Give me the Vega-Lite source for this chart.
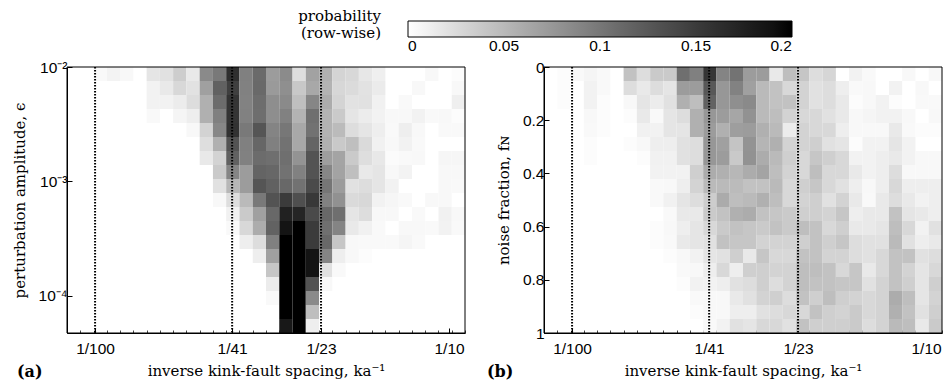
{
 "$schema": "https://vega.github.io/schema/vega-lite/v6.json",
 "background": "white",
 "padding": {"left": 12, "top": 21, "right": 5, "bottom": 5},
 "bounds": "flush",
 "spacing": 79,
 "datasets": {
  "lines": [{"k": 0.01}, {"k": 0.02439}, {"k": 0.04348}],
  "frame": [{}],
  "a": [
{"r":0,"c":2,"v":0.004},{"r":0,"c":3,"v":0.008},{"r":0,"c":4,"v":0.005},{"r":0,"c":6,"v":0.018},{"r":0,"c":7,"v":0.021},{"r":0,"c":8,"v":0.035},{"r":0,"c":9,"v":0.015},{"r":0,"c":10,"v":0.085},{"r":0,"c":11,"v":0.098},{"r":0,"c":12,"v":0.161},{"r":0,"c":13,"v":0.093},{"r":0,"c":14,"v":0.11},{"r":0,"c":15,"v":0.071},{"r":0,"c":16,"v":0.084},{"r":0,"c":17,"v":0.023},{"r":0,"c":18,"v":0.067},{"r":0,"c":19,"v":0.056},{"r":0,"c":20,"v":0.03},{"r":0,"c":21,"v":0.027},{"r":0,"c":22,"v":0.017},{"r":0,"c":23,"v":0.011},{"r":0,"c":27,"v":0.005},{"r":0,"c":29,"v":0.002},
{"r":1,"c":6,"v":0.009},{"r":1,"c":7,"v":0.015},{"r":1,"c":8,"v":0.027},{"r":1,"c":9,"v":0.02},{"r":1,"c":10,"v":0.068},{"r":1,"c":11,"v":0.118},{"r":1,"c":12,"v":0.147},{"r":1,"c":13,"v":0.092},{"r":1,"c":14,"v":0.111},{"r":1,"c":15,"v":0.073},{"r":1,"c":16,"v":0.081},{"r":1,"c":17,"v":0.039},{"r":1,"c":18,"v":0.062},{"r":1,"c":19,"v":0.054},{"r":1,"c":20,"v":0.028},{"r":1,"c":21,"v":0.025},{"r":1,"c":22,"v":0.02},{"r":1,"c":23,"v":0.014},{"r":1,"c":26,"v":0.005},{"r":1,"c":29,"v":0.005},
{"r":2,"c":6,"v":0.009},{"r":2,"c":7,"v":0.009},{"r":2,"c":8,"v":0.013},{"r":2,"c":9,"v":0.024},{"r":2,"c":10,"v":0.056},{"r":2,"c":11,"v":0.109},{"r":2,"c":12,"v":0.157},{"r":2,"c":13,"v":0.091},{"r":2,"c":14,"v":0.108},{"r":2,"c":15,"v":0.082},{"r":2,"c":16,"v":0.085},{"r":2,"c":17,"v":0.045},{"r":2,"c":18,"v":0.088},{"r":2,"c":19,"v":0.059},{"r":2,"c":20,"v":0.03},{"r":2,"c":21,"v":0.02},{"r":2,"c":22,"v":0.021},{"r":2,"c":23,"v":0.01},{"r":2,"c":25,"v":0.004},{"r":2,"c":29,"v":0.011},
{"r":3,"c":6,"v":0.004},{"r":3,"c":8,"v":0.007},{"r":3,"c":9,"v":0.012},{"r":3,"c":10,"v":0.056},{"r":3,"c":11,"v":0.093},{"r":3,"c":12,"v":0.157},{"r":3,"c":13,"v":0.092},{"r":3,"c":14,"v":0.107},{"r":3,"c":15,"v":0.082},{"r":3,"c":16,"v":0.092},{"r":3,"c":17,"v":0.054},{"r":3,"c":18,"v":0.106},{"r":3,"c":19,"v":0.054},{"r":3,"c":20,"v":0.037},{"r":3,"c":21,"v":0.018},{"r":3,"c":22,"v":0.013},{"r":3,"c":23,"v":0.009},{"r":3,"c":24,"v":0.005},{"r":3,"c":25,"v":0.005},{"r":3,"c":26,"v":0.009},{"r":3,"c":27,"v":0.004},{"r":3,"c":28,"v":0.005},{"r":3,"c":29,"v":0.002},
{"r":4,"c":9,"v":0.005},{"r":4,"c":10,"v":0.031},{"r":4,"c":11,"v":0.087},{"r":4,"c":12,"v":0.158},{"r":4,"c":13,"v":0.098},{"r":4,"c":14,"v":0.128},{"r":4,"c":15,"v":0.09},{"r":4,"c":16,"v":0.1},{"r":4,"c":17,"v":0.062},{"r":4,"c":18,"v":0.104},{"r":4,"c":19,"v":0.054},{"r":4,"c":20,"v":0.048},{"r":4,"c":21,"v":0.024},{"r":4,"c":22,"v":0.018},{"r":4,"c":23,"v":0.012},{"r":4,"c":24,"v":0.004},{"r":4,"c":25,"v":0.012},{"r":4,"c":26,"v":0.005},{"r":4,"c":28,"v":0.004},{"r":4,"c":29,"v":0.004},
{"r":5,"c":10,"v":0.023},{"r":5,"c":11,"v":0.056},{"r":5,"c":12,"v":0.129},{"r":5,"c":13,"v":0.093},{"r":5,"c":14,"v":0.114},{"r":5,"c":15,"v":0.093},{"r":5,"c":16,"v":0.104},{"r":5,"c":17,"v":0.062},{"r":5,"c":18,"v":0.115},{"r":5,"c":19,"v":0.056},{"r":5,"c":20,"v":0.038},{"r":5,"c":21,"v":0.045},{"r":5,"c":22,"v":0.026},{"r":5,"c":23,"v":0.01},{"r":5,"c":24,"v":0.005},{"r":5,"c":25,"v":0.009},{"r":5,"c":26,"v":0.004},
{"r":6,"c":10,"v":0.015},{"r":6,"c":11,"v":0.031},{"r":6,"c":12,"v":0.118},{"r":6,"c":13,"v":0.092},{"r":6,"c":14,"v":0.109},{"r":6,"c":15,"v":0.106},{"r":6,"c":16,"v":0.106},{"r":6,"c":17,"v":0.078},{"r":6,"c":18,"v":0.129},{"r":6,"c":19,"v":0.07},{"r":6,"c":20,"v":0.065},{"r":6,"c":21,"v":0.037},{"r":6,"c":22,"v":0.023},{"r":6,"c":23,"v":0.016},{"r":6,"c":24,"v":0.003},{"r":6,"c":25,"v":0.004},{"r":6,"c":26,"v":0.005},{"r":6,"c":28,"v":0.006},{"r":6,"c":29,"v":0.006},
{"r":7,"c":11,"v":0.037},{"r":7,"c":12,"v":0.089},{"r":7,"c":13,"v":0.071},{"r":7,"c":14,"v":0.115},{"r":7,"c":15,"v":0.113},{"r":7,"c":16,"v":0.104},{"r":7,"c":17,"v":0.092},{"r":7,"c":18,"v":0.129},{"r":7,"c":19,"v":0.088},{"r":7,"c":20,"v":0.066},{"r":7,"c":21,"v":0.045},{"r":7,"c":22,"v":0.015},{"r":7,"c":23,"v":0.018},{"r":7,"c":24,"v":0.005},{"r":7,"c":25,"v":0.008},{"r":7,"c":28,"v":0.005},{"r":7,"c":29,"v":0.005},
{"r":8,"c":11,"v":0.021},{"r":8,"c":12,"v":0.051},{"r":8,"c":13,"v":0.071},{"r":8,"c":14,"v":0.128},{"r":8,"c":15,"v":0.118},{"r":8,"c":16,"v":0.112},{"r":8,"c":17,"v":0.104},{"r":8,"c":18,"v":0.137},{"r":8,"c":19,"v":0.101},{"r":8,"c":20,"v":0.071},{"r":8,"c":21,"v":0.021},{"r":8,"c":22,"v":0.024},{"r":8,"c":23,"v":0.018},{"r":8,"c":24,"v":0.009},{"r":8,"c":28,"v":0.005},{"r":8,"c":29,"v":0.004},
{"r":9,"c":11,"v":0.005},{"r":9,"c":12,"v":0.023},{"r":9,"c":13,"v":0.049},{"r":9,"c":14,"v":0.098},{"r":9,"c":15,"v":0.129},{"r":9,"c":16,"v":0.15},{"r":9,"c":17,"v":0.133},{"r":9,"c":18,"v":0.153},{"r":9,"c":19,"v":0.092},{"r":9,"c":20,"v":0.08},{"r":9,"c":21,"v":0.026},{"r":9,"c":22,"v":0.027},{"r":9,"c":23,"v":0.009},{"r":9,"c":24,"v":0.006},{"r":9,"c":25,"v":0.004},{"r":9,"c":27,"v":0.005},{"r":9,"c":28,"v":0.005},
{"r":10,"c":12,"v":0.01},{"r":10,"c":13,"v":0.037},{"r":10,"c":14,"v":0.068},{"r":10,"c":15,"v":0.112},{"r":10,"c":16,"v":0.175},{"r":10,"c":17,"v":0.171},{"r":10,"c":18,"v":0.137},{"r":10,"c":19,"v":0.112},{"r":10,"c":20,"v":0.106},{"r":10,"c":21,"v":0.018},{"r":10,"c":22,"v":0.024},{"r":10,"c":23,"v":0.005},{"r":10,"c":24,"v":0.005},{"r":10,"c":26,"v":0.004},{"r":10,"c":28,"v":0.01},{"r":10,"c":29,"v":0.005},
{"r":11,"c":12,"v":0.004},{"r":11,"c":13,"v":0.027},{"r":11,"c":14,"v":0.059},{"r":11,"c":15,"v":0.117},{"r":11,"c":16,"v":0.187},{"r":11,"c":17,"v":0.23},{"r":11,"c":18,"v":0.15},{"r":11,"c":19,"v":0.106},{"r":11,"c":20,"v":0.09},{"r":11,"c":21,"v":0.015},{"r":11,"c":22,"v":0.01},{"r":11,"c":23,"v":0.004},{"r":11,"c":25,"v":0.005},{"r":11,"c":26,"v":0.005},{"r":11,"c":27,"v":0.004},{"r":11,"c":28,"v":0.009},{"r":11,"c":29,"v":0.004},
{"r":12,"c":13,"v":0.012},{"r":12,"c":14,"v":0.024},{"r":12,"c":15,"v":0.093},{"r":12,"c":16,"v":0.21},{"r":12,"c":17,"v":0.22},{"r":12,"c":18,"v":0.15},{"r":12,"c":19,"v":0.112},{"r":12,"c":20,"v":0.04},{"r":12,"c":21,"v":0.005},{"r":12,"c":22,"v":0.004},{"r":12,"c":23,"v":0.004},{"r":12,"c":24,"v":0.004},{"r":12,"c":25,"v":0.007},{"r":12,"c":26,"v":0.004},
{"r":13,"c":14,"v":0.012},{"r":13,"c":15,"v":0.068},{"r":13,"c":16,"v":0.22},{"r":13,"c":17,"v":0.23},{"r":13,"c":18,"v":0.187},{"r":13,"c":19,"v":0.09},{"r":13,"c":20,"v":0.012},{"r":13,"c":21,"v":0.005},{"r":13,"c":22,"v":0.002},
{"r":14,"c":15,"v":0.04},{"r":14,"c":16,"v":0.23},{"r":14,"c":17,"v":0.24},{"r":14,"c":18,"v":0.187},{"r":14,"c":19,"v":0.021},{"r":14,"c":20,"v":0.004},
{"r":15,"c":15,"v":0.013},{"r":15,"c":16,"v":0.24},{"r":15,"c":17,"v":0.25},{"r":15,"c":18,"v":0.129},{"r":15,"c":19,"v":0.005},
{"r":16,"c":15,"v":0.004},{"r":16,"c":16,"v":0.25},{"r":16,"c":17,"v":0.26},{"r":16,"c":18,"v":0.085},
{"r":17,"c":16,"v":0.26},{"r":17,"c":17,"v":0.27},{"r":17,"c":18,"v":0.046},
{"r":18,"c":16,"v":0.184},{"r":18,"c":17,"v":0.27},{"r":18,"c":18,"v":0.012}
  ],
  "b": [
{"r":0,"c":1,"v":0.002},{"r":0,"c":2,"v":0.004},{"r":0,"c":3,"v":0.007},{"r":0,"c":4,"v":0.004},{"r":0,"c":6,"v":0.043},{"r":0,"c":7,"v":0.024},{"r":0,"c":8,"v":0.037},{"r":0,"c":9,"v":0.037},{"r":0,"c":10,"v":0.106},{"r":0,"c":11,"v":0.093},{"r":0,"c":12,"v":0.156},{"r":0,"c":13,"v":0.09},{"r":0,"c":14,"v":0.103},{"r":0,"c":15,"v":0.071},{"r":0,"c":16,"v":0.071},{"r":0,"c":17,"v":0.015},{"r":0,"c":18,"v":0.046},{"r":0,"c":19,"v":0.04},{"r":0,"c":20,"v":0.024},{"r":0,"c":21,"v":0.029},{"r":0,"c":23,"v":0.009},{"r":0,"c":24,"v":0.004},{"r":0,"c":27,"v":0.005},{"r":0,"c":29,"v":0.005},
{"r":1,"c":1,"v":0.002},{"r":1,"c":3,"v":0.009},{"r":1,"c":4,"v":0.004},{"r":1,"c":6,"v":0.024},{"r":1,"c":7,"v":0.015},{"r":1,"c":8,"v":0.024},{"r":1,"c":9,"v":0.018},{"r":1,"c":10,"v":0.071},{"r":1,"c":11,"v":0.071},{"r":1,"c":12,"v":0.125},{"r":1,"c":13,"v":0.075},{"r":1,"c":14,"v":0.091},{"r":1,"c":15,"v":0.068},{"r":1,"c":16,"v":0.049},{"r":1,"c":17,"v":0.043},{"r":1,"c":18,"v":0.027},{"r":1,"c":19,"v":0.031},{"r":1,"c":20,"v":0.021},{"r":1,"c":21,"v":0.024},{"r":1,"c":22,"v":0.012},{"r":1,"c":23,"v":0.004},{"r":1,"c":24,"v":0.005},{"r":1,"c":26,"v":0.009},{"r":1,"c":28,"v":0.005},
{"r":2,"c":1,"v":0.002},{"r":2,"c":3,"v":0.009},{"r":2,"c":4,"v":0.002},{"r":2,"c":6,"v":0.005},{"r":2,"c":7,"v":0.018},{"r":2,"c":8,"v":0.013},{"r":2,"c":9,"v":0.021},{"r":2,"c":10,"v":0.056},{"r":2,"c":11,"v":0.046},{"r":2,"c":12,"v":0.117},{"r":2,"c":13,"v":0.075},{"r":2,"c":14,"v":0.081},{"r":2,"c":15,"v":0.085},{"r":2,"c":16,"v":0.049},{"r":2,"c":17,"v":0.043},{"r":2,"c":18,"v":0.043},{"r":2,"c":19,"v":0.031},{"r":2,"c":20,"v":0.021},{"r":2,"c":21,"v":0.024},{"r":2,"c":22,"v":0.015},{"r":2,"c":23,"v":0.002},{"r":2,"c":24,"v":0.005},{"r":2,"c":25,"v":0.009},{"r":2,"c":26,"v":0.002},{"r":2,"c":28,"v":0.004},{"r":2,"c":29,"v":0.004},
{"r":3,"c":3,"v":0.005},{"r":3,"c":4,"v":0.002},{"r":3,"c":6,"v":0.002},{"r":3,"c":7,"v":0.015},{"r":3,"c":8,"v":0.004},{"r":3,"c":9,"v":0.018},{"r":3,"c":10,"v":0.024},{"r":3,"c":11,"v":0.056},{"r":3,"c":12,"v":0.075},{"r":3,"c":13,"v":0.071},{"r":3,"c":14,"v":0.064},{"r":3,"c":15,"v":0.079},{"r":3,"c":16,"v":0.049},{"r":3,"c":17,"v":0.046},{"r":3,"c":18,"v":0.031},{"r":3,"c":19,"v":0.027},{"r":3,"c":20,"v":0.027},{"r":3,"c":21,"v":0.021},{"r":3,"c":22,"v":0.015},{"r":3,"c":23,"v":0.005},{"r":3,"c":24,"v":0.007},{"r":3,"c":25,"v":0.009},{"r":3,"c":26,"v":0.009},{"r":3,"c":27,"v":0.005},{"r":3,"c":29,"v":0.005},
{"r":4,"c":3,"v":0.004},{"r":4,"c":4,"v":0.002},{"r":4,"c":7,"v":0.01},{"r":4,"c":8,"v":0.009},{"r":4,"c":9,"v":0.018},{"r":4,"c":10,"v":0.018},{"r":4,"c":11,"v":0.056},{"r":4,"c":12,"v":0.071},{"r":4,"c":13,"v":0.056},{"r":4,"c":14,"v":0.07},{"r":4,"c":15,"v":0.071},{"r":4,"c":16,"v":0.056},{"r":4,"c":17,"v":0.049},{"r":4,"c":18,"v":0.013},{"r":4,"c":19,"v":0.031},{"r":4,"c":20,"v":0.027},{"r":4,"c":21,"v":0.027},{"r":4,"c":22,"v":0.012},{"r":4,"c":23,"v":0.005},{"r":4,"c":24,"v":0.005},{"r":4,"c":25,"v":0.005},{"r":4,"c":26,"v":0.015},{"r":4,"c":27,"v":0.004},{"r":4,"c":28,"v":0.002},{"r":4,"c":29,"v":0.002},
{"r":5,"c":3,"v":0.002},{"r":5,"c":6,"v":0.002},{"r":5,"c":7,"v":0.005},{"r":5,"c":8,"v":0.012},{"r":5,"c":9,"v":0.012},{"r":5,"c":10,"v":0.021},{"r":5,"c":11,"v":0.024},{"r":5,"c":12,"v":0.075},{"r":5,"c":13,"v":0.068},{"r":5,"c":14,"v":0.042},{"r":5,"c":15,"v":0.078},{"r":5,"c":16,"v":0.053},{"r":5,"c":17,"v":0.056},{"r":5,"c":18,"v":0.031},{"r":5,"c":19,"v":0.031},{"r":5,"c":20,"v":0.034},{"r":5,"c":21,"v":0.021},{"r":5,"c":22,"v":0.018},{"r":5,"c":23,"v":0.002},{"r":5,"c":24,"v":0.009},{"r":5,"c":25,"v":0.009},{"r":5,"c":26,"v":0.018},{"r":5,"c":27,"v":0.009},
{"r":6,"c":3,"v":0.002},{"r":6,"c":7,"v":0.002},{"r":6,"c":8,"v":0.01},{"r":6,"c":9,"v":0.01},{"r":6,"c":10,"v":0.021},{"r":6,"c":11,"v":0.024},{"r":6,"c":12,"v":0.075},{"r":6,"c":13,"v":0.071},{"r":6,"c":14,"v":0.038},{"r":6,"c":15,"v":0.079},{"r":6,"c":16,"v":0.059},{"r":6,"c":17,"v":0.049},{"r":6,"c":18,"v":0.034},{"r":6,"c":19,"v":0.027},{"r":6,"c":20,"v":0.04},{"r":6,"c":21,"v":0.034},{"r":6,"c":22,"v":0.027},{"r":6,"c":23,"v":0.009},{"r":6,"c":24,"v":0.009},{"r":6,"c":25,"v":0.012},{"r":6,"c":26,"v":0.015},{"r":6,"c":27,"v":0.009},{"r":6,"c":28,"v":0.005},{"r":6,"c":29,"v":0.005},
{"r":7,"c":8,"v":0.009},{"r":7,"c":9,"v":0.009},{"r":7,"c":10,"v":0.009},{"r":7,"c":11,"v":0.034},{"r":7,"c":12,"v":0.059},{"r":7,"c":13,"v":0.056},{"r":7,"c":14,"v":0.051},{"r":7,"c":15,"v":0.059},{"r":7,"c":16,"v":0.065},{"r":7,"c":17,"v":0.046},{"r":7,"c":18,"v":0.031},{"r":7,"c":19,"v":0.027},{"r":7,"c":20,"v":0.046},{"r":7,"c":21,"v":0.027},{"r":7,"c":22,"v":0.027},{"r":7,"c":23,"v":0.015},{"r":7,"c":24,"v":0.009},{"r":7,"c":25,"v":0.012},{"r":7,"c":26,"v":0.024},{"r":7,"c":27,"v":0.005},{"r":7,"c":28,"v":0.005},{"r":7,"c":29,"v":0.005},
{"r":8,"c":8,"v":0.004},{"r":8,"c":9,"v":0.005},{"r":8,"c":10,"v":0.012},{"r":8,"c":11,"v":0.031},{"r":8,"c":12,"v":0.049},{"r":8,"c":13,"v":0.049},{"r":8,"c":14,"v":0.048},{"r":8,"c":15,"v":0.043},{"r":8,"c":16,"v":0.043},{"r":8,"c":17,"v":0.049},{"r":8,"c":18,"v":0.027},{"r":8,"c":19,"v":0.034},{"r":8,"c":20,"v":0.04},{"r":8,"c":21,"v":0.027},{"r":8,"c":22,"v":0.021},{"r":8,"c":23,"v":0.012},{"r":8,"c":24,"v":0.005},{"r":8,"c":25,"v":0.012},{"r":8,"c":26,"v":0.027},{"r":8,"c":27,"v":0.012},{"r":8,"c":28,"v":0.012},{"r":8,"c":29,"v":0.012},
{"r":9,"c":8,"v":0.004},{"r":9,"c":9,"v":0.01},{"r":9,"c":10,"v":0.018},{"r":9,"c":11,"v":0.024},{"r":9,"c":12,"v":0.035},{"r":9,"c":13,"v":0.06},{"r":9,"c":14,"v":0.046},{"r":9,"c":15,"v":0.049},{"r":9,"c":16,"v":0.056},{"r":9,"c":17,"v":0.046},{"r":9,"c":18,"v":0.027},{"r":9,"c":19,"v":0.031},{"r":9,"c":20,"v":0.034},{"r":9,"c":21,"v":0.021},{"r":9,"c":22,"v":0.031},{"r":9,"c":23,"v":0.015},{"r":9,"c":24,"v":0.004},{"r":9,"c":25,"v":0.015},{"r":9,"c":26,"v":0.024},{"r":9,"c":27,"v":0.015},{"r":9,"c":28,"v":0.009},{"r":9,"c":29,"v":0.012},
{"r":10,"c":9,"v":0.004},{"r":10,"c":10,"v":0.015},{"r":10,"c":11,"v":0.015},{"r":10,"c":12,"v":0.037},{"r":10,"c":13,"v":0.043},{"r":10,"c":14,"v":0.056},{"r":10,"c":15,"v":0.059},{"r":10,"c":16,"v":0.043},{"r":10,"c":17,"v":0.04},{"r":10,"c":18,"v":0.037},{"r":10,"c":19,"v":0.034},{"r":10,"c":20,"v":0.034},{"r":10,"c":21,"v":0.031},{"r":10,"c":22,"v":0.04},{"r":10,"c":23,"v":0.012},{"r":10,"c":24,"v":0.015},{"r":10,"c":25,"v":0.015},{"r":10,"c":26,"v":0.043},{"r":10,"c":27,"v":0.018},{"r":10,"c":28,"v":0.015},{"r":10,"c":29,"v":0.012},
{"r":11,"c":8,"v":0.002},{"r":11,"c":9,"v":0.005},{"r":11,"c":10,"v":0.012},{"r":11,"c":11,"v":0.018},{"r":11,"c":12,"v":0.027},{"r":11,"c":13,"v":0.037},{"r":11,"c":14,"v":0.043},{"r":11,"c":15,"v":0.04},{"r":11,"c":16,"v":0.037},{"r":11,"c":17,"v":0.043},{"r":11,"c":18,"v":0.037},{"r":11,"c":19,"v":0.046},{"r":11,"c":20,"v":0.043},{"r":11,"c":21,"v":0.027},{"r":11,"c":22,"v":0.034},{"r":11,"c":23,"v":0.015},{"r":11,"c":24,"v":0.015},{"r":11,"c":25,"v":0.018},{"r":11,"c":26,"v":0.046},{"r":11,"c":27,"v":0.027},{"r":11,"c":28,"v":0.009},{"r":11,"c":29,"v":0.021},
{"r":12,"c":8,"v":0.002},{"r":12,"c":9,"v":0.004},{"r":12,"c":10,"v":0.015},{"r":12,"c":11,"v":0.018},{"r":12,"c":12,"v":0.021},{"r":12,"c":13,"v":0.043},{"r":12,"c":14,"v":0.04},{"r":12,"c":15,"v":0.04},{"r":12,"c":16,"v":0.031},{"r":12,"c":17,"v":0.031},{"r":12,"c":18,"v":0.031},{"r":12,"c":19,"v":0.034},{"r":12,"c":20,"v":0.043},{"r":12,"c":21,"v":0.034},{"r":12,"c":22,"v":0.04},{"r":12,"c":23,"v":0.024},{"r":12,"c":24,"v":0.021},{"r":12,"c":25,"v":0.021},{"r":12,"c":26,"v":0.049},{"r":12,"c":27,"v":0.021},{"r":12,"c":28,"v":0.012},{"r":12,"c":29,"v":0.015},
{"r":13,"c":9,"v":0.002},{"r":13,"c":10,"v":0.005},{"r":13,"c":11,"v":0.009},{"r":13,"c":12,"v":0.018},{"r":13,"c":13,"v":0.021},{"r":13,"c":14,"v":0.034},{"r":13,"c":15,"v":0.015},{"r":13,"c":16,"v":0.04},{"r":13,"c":17,"v":0.027},{"r":13,"c":18,"v":0.027},{"r":13,"c":19,"v":0.043},{"r":13,"c":20,"v":0.043},{"r":13,"c":21,"v":0.031},{"r":13,"c":22,"v":0.031},{"r":13,"c":23,"v":0.024},{"r":13,"c":24,"v":0.021},{"r":13,"c":25,"v":0.027},{"r":13,"c":26,"v":0.043},{"r":13,"c":27,"v":0.043},{"r":13,"c":28,"v":0.021},{"r":13,"c":29,"v":0.024},
{"r":14,"c":10,"v":0.004},{"r":14,"c":11,"v":0.005},{"r":14,"c":12,"v":0.012},{"r":14,"c":13,"v":0.027},{"r":14,"c":14,"v":0.012},{"r":14,"c":15,"v":0.034},{"r":14,"c":16,"v":0.034},{"r":14,"c":17,"v":0.031},{"r":14,"c":18,"v":0.031},{"r":14,"c":19,"v":0.046},{"r":14,"c":20,"v":0.046},{"r":14,"c":21,"v":0.043},{"r":14,"c":22,"v":0.027},{"r":14,"c":23,"v":0.04},{"r":14,"c":24,"v":0.015},{"r":14,"c":25,"v":0.027},{"r":14,"c":26,"v":0.043},{"r":14,"c":27,"v":0.031},{"r":14,"c":28,"v":0.018},{"r":14,"c":29,"v":0.027},
{"r":15,"c":10,"v":0.002},{"r":15,"c":11,"v":0.009},{"r":15,"c":12,"v":0.009},{"r":15,"c":13,"v":0.012},{"r":15,"c":14,"v":0.021},{"r":15,"c":15,"v":0.024},{"r":15,"c":16,"v":0.034},{"r":15,"c":17,"v":0.024},{"r":15,"c":18,"v":0.031},{"r":15,"c":19,"v":0.046},{"r":15,"c":20,"v":0.043},{"r":15,"c":21,"v":0.043},{"r":15,"c":22,"v":0.04},{"r":15,"c":23,"v":0.04},{"r":15,"c":24,"v":0.021},{"r":15,"c":25,"v":0.031},{"r":15,"c":26,"v":0.043},{"r":15,"c":27,"v":0.034},{"r":15,"c":28,"v":0.018},{"r":15,"c":29,"v":0.034},
{"r":16,"c":11,"v":0.004},{"r":16,"c":12,"v":0.005},{"r":16,"c":13,"v":0.005},{"r":16,"c":14,"v":0.015},{"r":16,"c":15,"v":0.021},{"r":16,"c":16,"v":0.031},{"r":16,"c":17,"v":0.034},{"r":16,"c":18,"v":0.024},{"r":16,"c":19,"v":0.043},{"r":16,"c":20,"v":0.034},{"r":16,"c":21,"v":0.046},{"r":16,"c":22,"v":0.034},{"r":16,"c":23,"v":0.031},{"r":16,"c":24,"v":0.027},{"r":16,"c":25,"v":0.031},{"r":16,"c":26,"v":0.059},{"r":16,"c":27,"v":0.046},{"r":16,"c":28,"v":0.018},{"r":16,"c":29,"v":0.031},
{"r":17,"c":11,"v":0.002},{"r":17,"c":12,"v":0.005},{"r":17,"c":13,"v":0.005},{"r":17,"c":14,"v":0.012},{"r":17,"c":15,"v":0.012},{"r":17,"c":16,"v":0.021},{"r":17,"c":17,"v":0.024},{"r":17,"c":18,"v":0.027},{"r":17,"c":19,"v":0.027},{"r":17,"c":20,"v":0.043},{"r":17,"c":21,"v":0.034},{"r":17,"c":22,"v":0.031},{"r":17,"c":23,"v":0.037},{"r":17,"c":24,"v":0.027},{"r":17,"c":25,"v":0.031},{"r":17,"c":26,"v":0.056},{"r":17,"c":27,"v":0.043},{"r":17,"c":28,"v":0.021},{"r":17,"c":29,"v":0.034},
{"r":18,"c":12,"v":0.004},{"r":18,"c":13,"v":0.009},{"r":18,"c":14,"v":0.021},{"r":18,"c":15,"v":0.018},{"r":18,"c":16,"v":0.027},{"r":18,"c":17,"v":0.027},{"r":18,"c":18,"v":0.021},{"r":18,"c":19,"v":0.043},{"r":18,"c":20,"v":0.034},{"r":18,"c":21,"v":0.034},{"r":18,"c":22,"v":0.034},{"r":18,"c":23,"v":0.037},{"r":18,"c":24,"v":0.024},{"r":18,"c":25,"v":0.031},{"r":18,"c":26,"v":0.049},{"r":18,"c":27,"v":0.046},{"r":18,"c":28,"v":0.015},{"r":18,"c":29,"v":0.037}
  ]
 },
 "hconcat": [
  {
   "width": 398, "height": 266,
   "title": {"text": "(a)", "orient": "bottom", "anchor": "start", "frame": "group", "dx": -50, "offset": -15, "font": "DejaVu Serif", "fontWeight": "bold", "fontSize": 16, "color": "#000"},
   "layer": [
    {"data": {"name": "a"}, "mark": {"type": "rect"},
     "encoding": {
      "x": {"field": "c", "type": "ordinal", "scale": {"domain": [0,1,2,3,4,5,6,7,8,9,10,11,12,13,14,15,16,17,18,19,20,21,22,23,24,25,26,27,28,29], "paddingInner": 0, "paddingOuter": 0}, "axis": {"orient": "bottom", "labels": false, "domain": false, "ticks": true, "tickBand": "extent", "tickSize": -3, "tickColor": "#444", "title": null}},
      "y": {"field": "r", "type": "ordinal", "scale": {"domain": [0,1,2,3,4,5,6,7,8,9,10,11,12,13,14,15,16,17,18], "paddingInner": 0, "paddingOuter": 0}, "axis": null},
      "color": {"field": "v", "type": "quantitative", "scale": {"domain": [0, 0.2], "range": ["#ffffff", "#000000"], "clamp": true},
       "legend": {"orient": "none", "legendX": 231, "legendY": -46, "direction": "horizontal", "gradientLength": 384, "gradientThickness": 16, "title": ["probability", "(row-wise)"], "titleOrient": "left", "titleAlign": "right", "titleAnchor": "start", "titleBaseline": "alphabetic", "titleLineHeight": 17, "titlePadding": -56, "values": [0, 0.05, 0.1, 0.15, 0.2], "format": "~g", "labelAlign": "center"}}
     }},
    {"data": {"name": "lines"}, "mark": {"type": "rule", "color": "#000", "strokeWidth": 2, "strokeDash": [1.5, 1.5]},
     "encoding": {
      "x": {"field": "k", "type": "quantitative", "scale": {"type": "log", "domain": [0.008331, 0.11092], "nice": false},
            "axis": {"orient": "bottom", "values": [0.01, 0.02439, 0.04348, 0.1], "labelExpr": "datum.value < 0.015 ? '1/100' : datum.value < 0.03 ? '1/41' : datum.value < 0.06 ? '1/23' : '1/10'", "title": "inverse kink-fault spacing, ka⁻¹"}},
      "y": {"datum": 0.01, "type": "quantitative", "scale": {"type": "log", "domain": [0.0000475, 0.01], "nice": false},
            "axis": {"orient": "left", "values": [0.0001, 0.001, 0.01], "labelExpr": "datum.value < 0.0005 ? '10⁻⁴' : datum.value < 0.005 ? '10⁻³' : '10⁻²'", "title": "perturbation amplitude, ϵ"}},
      "y2": {"datum": 0.0000475}
     }},
    {"data": {"name": "frame"}, "mark": {"type": "rect", "fill": null, "stroke": "#000", "strokeWidth": 1}, "encoding": {}}
   ],
   "resolve": {"scale": {"x": "independent", "y": "independent"}}
  },
  {
   "width": 398, "height": 266,
   "title": {"text": "(b)", "orient": "bottom", "anchor": "start", "frame": "group", "dx": -57, "offset": -15, "font": "DejaVu Serif", "fontWeight": "bold", "fontSize": 16, "color": "#000"},
   "layer": [
    {"data": {"name": "b"}, "mark": {"type": "rect"},
     "encoding": {
      "x": {"field": "c", "type": "ordinal", "scale": {"domain": [0,1,2,3,4,5,6,7,8,9,10,11,12,13,14,15,16,17,18,19,20,21,22,23,24,25,26,27,28,29], "paddingInner": 0, "paddingOuter": 0}, "axis": {"orient": "bottom", "labels": false, "domain": false, "ticks": true, "tickBand": "extent", "tickSize": -3, "tickColor": "#444", "title": null}},
      "y": {"field": "r", "type": "ordinal", "scale": {"domain": [0,1,2,3,4,5,6,7,8,9,10,11,12,13,14,15,16,17,18], "paddingInner": 0, "paddingOuter": 0}, "axis": null},
      "color": {"field": "v", "type": "quantitative", "scale": {"domain": [0, 0.2], "range": ["#ffffff", "#000000"], "clamp": true}, "legend": null}
     }},
    {"data": {"name": "lines"}, "mark": {"type": "rule", "color": "#000", "strokeWidth": 2, "strokeDash": [1.5, 1.5]},
     "encoding": {
      "x": {"field": "k", "type": "quantitative", "scale": {"type": "log", "domain": [0.008331, 0.11092], "nice": false},
            "axis": {"orient": "bottom", "values": [0.01, 0.02439, 0.04348, 0.1], "labelExpr": "datum.value < 0.015 ? '1/100' : datum.value < 0.03 ? '1/41' : datum.value < 0.06 ? '1/23' : '1/10'", "title": "inverse kink-fault spacing, ka⁻¹"}},
      "y": {"datum": 0, "type": "quantitative", "scale": {"domain": [0, 1], "reverse": true, "nice": false, "zero": false},
            "axis": {"orient": "left", "values": [0, 0.2, 0.4, 0.6, 0.8, 1], "format": "~g", "title": "noise fraction, fɴ"}},
      "y2": {"datum": 1}
     }},
    {"data": {"name": "frame"}, "mark": {"type": "rect", "fill": null, "stroke": "#000", "strokeWidth": 1}, "encoding": {}}
   ],
   "resolve": {"scale": {"x": "independent", "y": "independent"}}
  }
 ],
 "config": {
  "view": {"stroke": null},
  "axis": {"domainColor": "#000", "domainWidth": 1, "tickColor": "#000", "tickSize": -5, "ticks": true, "grid": false, "zindex": 1,
           "labelFont": "Liberation Sans", "labelFontSize": 15.5, "labelColor": "#000",
           "titleFont": "DejaVu Serif", "titleFontSize": 15, "titleFontWeight": "normal", "titleColor": "#000"},
  "axisX": {"labelPadding": 13, "titlePadding": 7},
  "axisY": {"labelPadding": 5, "titlePadding": 11},
  "legend": {"labelFont": "Liberation Sans", "labelFontSize": 15.5, "labelColor": "#000", "titleFont": "DejaVu Serif", "titleFontSize": 15, "titleFontWeight": "normal", "titleColor": "#000", "gradientStrokeColor": "#000", "gradientStrokeWidth": 1}
 }
}
